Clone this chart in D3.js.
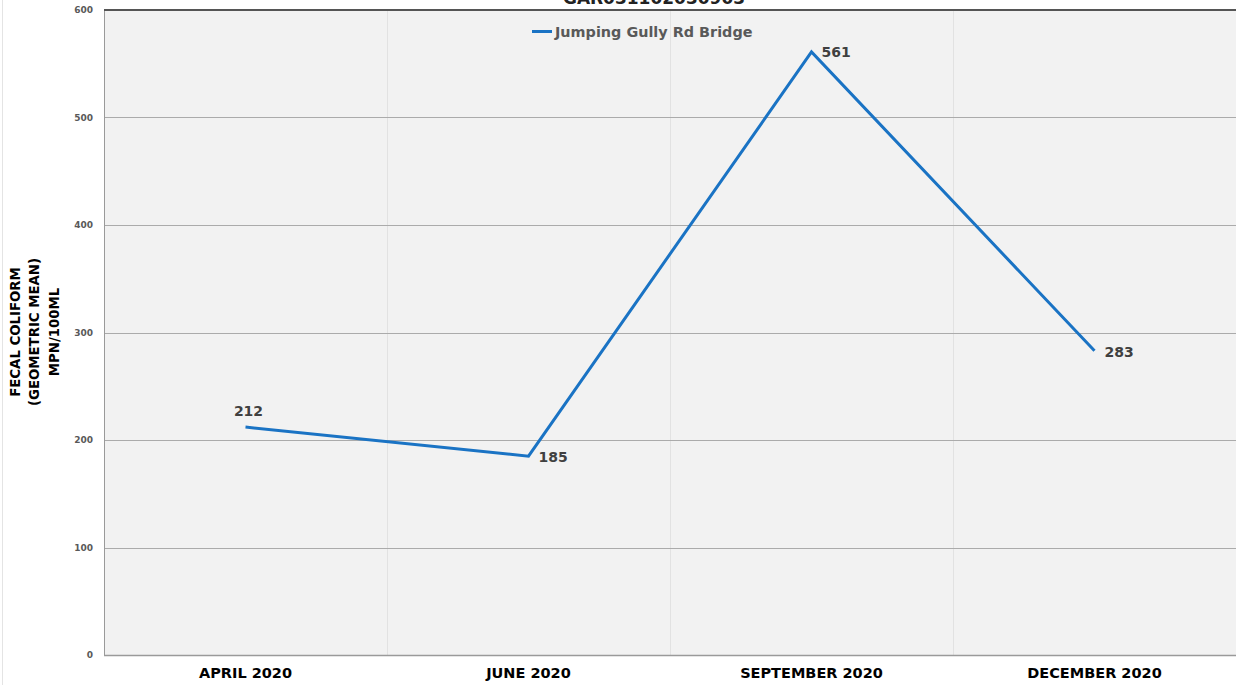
<!DOCTYPE html>
<html><head><meta charset="utf-8">
<script src="https://cdn.jsdelivr.net/npm/d3@7"></script>
<style>body{margin:0;background:#fff;}svg{display:block;font-family:"DejaVu Sans",Arial,sans-serif;}</style>
</head><body>
<svg id="c" width="1236" height="685"></svg>
<script>
const categories = ["APRIL 2020","JUNE 2020","SEPTEMBER 2020","DECEMBER 2020"];
const values = [212,185,561,283];
const yTicks = [0,100,200,300,400,500,600];
const seriesName = "Jumping Gully Rd Bridge";
const title = "GAR031102030903";
const yTitle = ["FECAL COLIFORM","(GEOMETRIC MEAN)","MPN/100ML"];

const svg = d3.select("#c");
const m = {l:104, r:0, t:10, b:30};
const W = 1236, H = 685;
const x = d3.scaleBand().domain(categories).range([m.l, W-m.r]);
const y = d3.scaleLinear().domain([0,600]).range([655, 10]);

// page border line
svg.append("line").attr("x1",2.5).attr("x2",2.5).attr("y1",0).attr("y2",H).attr("stroke","#e4e4e4");

svg.append("rect").attr("x",m.l).attr("y",y(600)).attr("width",W-m.l).attr("height",y(0)-y(600)).attr("fill","#f2f2f2");

// vertical grid at band boundaries
categories.slice(1).forEach(c=>{
  svg.append("line").attr("x1",x(c)+0.5).attr("x2",x(c)+0.5).attr("y1",y(600)).attr("y2",y(0)).attr("stroke","#e2e2e2");
});
// y axis labels
const ya = d3.axisLeft(y).tickValues(yTicks).tickSize(0).tickPadding(11);
const gy = svg.append("g").attr("transform",`translate(${m.l},0)`).call(ya);
gy.select(".domain").remove();
gy.selectAll("text").attr("font-size",9).attr("font-weight","bold").attr("fill","#595959").attr("font-family","DejaVu Sans");
// horizontal grid
yTicks.slice(1,-1).forEach(v=>{
  svg.append("line").attr("x1",m.l).attr("x2",W).attr("y1",Math.round(y(v))+0.5).attr("y2",Math.round(y(v))+0.5).attr("stroke","#ababab");
});
// borders
svg.append("line").attr("x1",m.l+0.5).attr("x2",m.l+0.5).attr("y1",y(600)).attr("y2",y(0)).attr("stroke","#9a9a9a");
svg.append("line").attr("x1",m.l).attr("x2",W).attr("y1",y(0)+0.5).attr("y2",y(0)+0.5).attr("stroke","#9a9a9a").attr("stroke-width",1.5);
svg.append("line").attr("x1",m.l).attr("x2",W).attr("y1",y(600)).attr("y2",y(600)).attr("stroke","#555").attr("stroke-width",2);

// x axis
const xa = d3.axisBottom(x).tickSize(0).tickPadding(13);
const gx = svg.append("g").attr("transform",`translate(0,${y(0)})`).call(xa);
gx.select(".domain").remove();
gx.selectAll("text").attr("font-size",14.5).attr("font-weight","bold").attr("fill","#000").attr("font-family","DejaVu Sans");

// title (clipped at top like the reference)
svg.append("text").attr("x",654).attr("y",4).attr("text-anchor","middle").attr("font-size",17).attr("font-weight","bold").attr("fill","#222").text(title);

// y title
const yt = svg.append("text").attr("transform","translate(35,332) rotate(-90)").attr("text-anchor","middle").attr("font-size",13.3).attr("font-weight","bold").attr("fill","#000");
yTitle.forEach((t,i)=>yt.append("tspan").attr("x",0).attr("dy", i===0 ? "-19.5" : "19.5").attr("dominant-baseline","middle").text(t));

// legend
svg.append("line").attr("x1",532).attr("x2",552).attr("y1",31.5).attr("y2",31.5).attr("stroke","#1a73c4").attr("stroke-width",3);
svg.append("text").attr("x",555).attr("y",36.5).attr("font-size",14.4).attr("font-weight","bold").attr("fill","#595959").text(seriesName);

// line
const cx = c => x(c)+x.bandwidth()/2;
const line = d3.line().x((d,i)=>cx(categories[i])).y(d=>y(d));
svg.append("path").datum(values).attr("d",line).attr("fill","none").attr("stroke","#1a73c4").attr("stroke-width",3).attr("stroke-linejoin","miter");

// labels
const offs = [[3,-15,"middle"],[10,2,"start"],[10,1,"start"],[10,2,"start"]];
values.forEach((v,i)=>{
  const o = offs[i];
  svg.append("text").attr("x",cx(categories[i])+o[0]).attr("y",y(v)+o[1]).attr("text-anchor",o[2]).attr("dominant-baseline","middle").attr("font-size",14).attr("font-weight","bold").attr("fill","#404040").text(v);
});
</script>
</body></html>
